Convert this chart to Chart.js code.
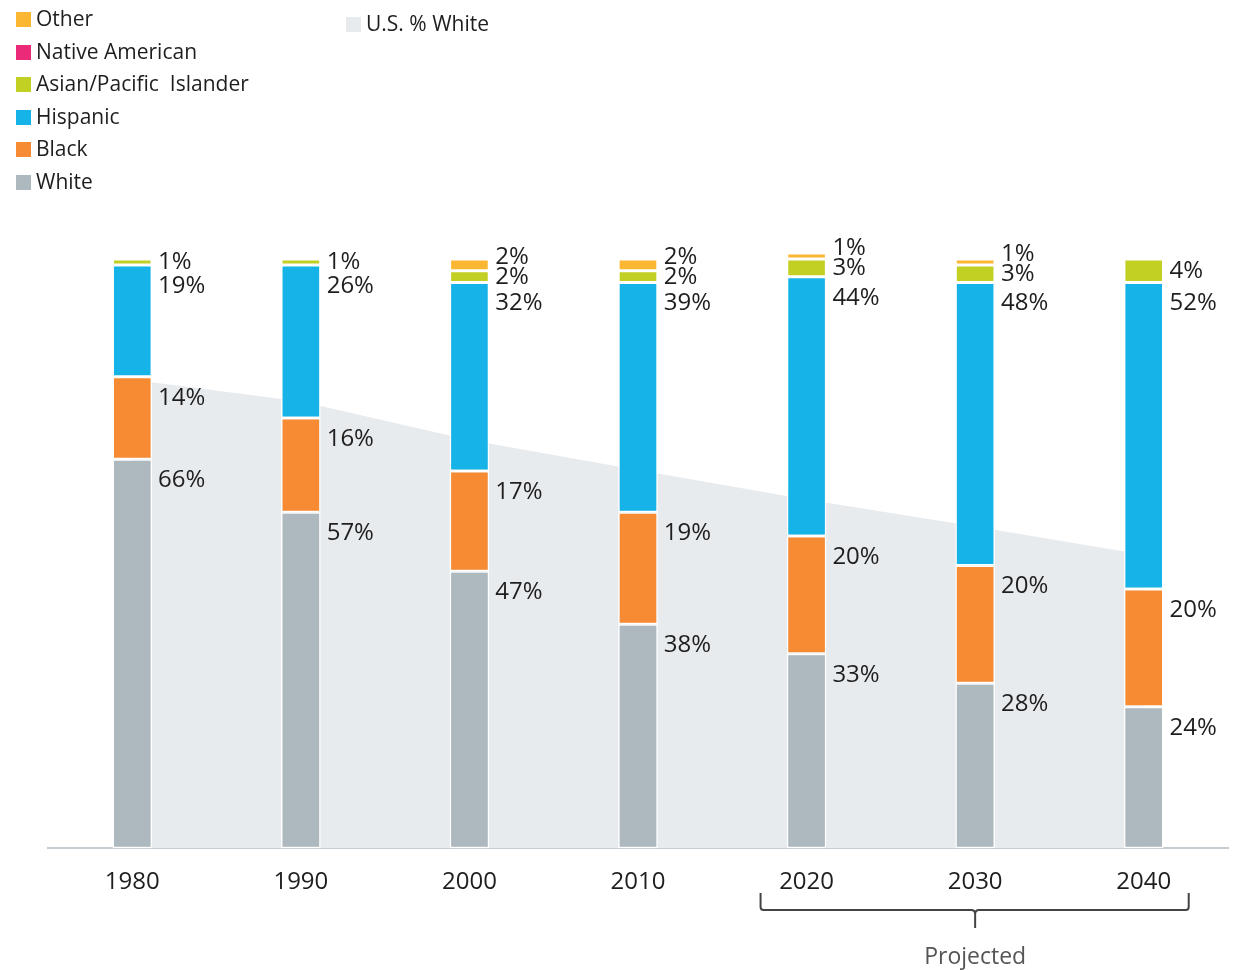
<!DOCTYPE html>
<html>
<head>
<meta charset="utf-8">
<script src="https://cdn.jsdelivr.net/npm/chart.js@4.4.0/dist/chart.umd.min.js"></script>
<style>
  body { margin: 0; background: #fff; font-family: "Open Sans", sans-serif; }
  #wrap { position: relative; width: 1237px; height: 970px; }
  #myChart { position: absolute; left: 0; top: 0; }
  .leg { position: absolute; font-size: 21px; color: #1e1e1e; line-height: 24px; white-space: pre; }
  .leg span { display: inline-block; width: 15px; height: 15px; margin-right: 5px; vertical-align: -1px; }
</style>
</head>
<body>
<div id="wrap">
  <canvas id="myChart" width="1237" height="970"></canvas>
  <div id="legend"></div>
</div>
<script>
// years on the x axis
let years = ['1980', '1990', '2000', '2010', '2020', '2030', '2040'];

// share of each group, in percent
let white = [66, 57, 47, 38, 33, 28, 24];
let black = [14, 16, 17, 19, 20, 20, 20];
let hispanic = [19, 26, 32, 39, 44, 48, 52];
let asian = [1, 1, 2, 2, 3, 3, 4];
let nativeAm = [0, 0, 0, 0, 0, 0, 0];
let other = [0, 0, 2, 2, 1, 1, 0];

// U.S. % white (background area)
let usWhite = [79.5, 75.8, 69.3, 64.2, 59.2, 54.6, 49.8];

let colores = {
    white: '#adb8bf',
    black: '#f68b33',
    hispanic: '#15b3e8',
    asian: '#c2cf23',
    nativeAm: '#ec2a7a',
    other: '#fbb731',
    area: '#e8ebee'
};

// legend, built as html
let legendItems = [
    { label: 'Other', color: colores.other, x: 16, y: 6 },
    { label: 'Native American', color: colores.nativeAm, x: 16, y: 39 },
    { label: 'Asian/Pacific  Islander', color: colores.asian, x: 16, y: 71 },
    { label: 'Hispanic', color: colores.hispanic, x: 16, y: 104 },
    { label: 'Black', color: colores.black, x: 16, y: 136 },
    { label: 'White', color: colores.white, x: 16, y: 169 },
    { label: 'U.S. % White', color: colores.area, x: 346, y: 11 }
];
let legend = document.getElementById('legend');
legendItems.forEach(e => {
    let d = document.createElement('div');
    d.className = 'leg';
    d.style.left = e.x + 'px';
    d.style.top = e.y + 'px';
    d.innerHTML = '<span style="background:' + e.color + '"></span>' + e.label;
    legend.appendChild(d);
});

function barSet(label, data, color) {
    return {
        type: 'bar',
        label: label,
        data: data,
        backgroundColor: color,
        borderColor: '#ffffff',
        borderWidth: 1.5,
        borderSkipped: false,
        stack: 'razas',
        barPercentage: 0.235,
        categoryPercentage: 1,
        clip: false,
        order: 1
    };
}

// labels to the right of each bar + the "Projected" bracket
const etiquetas = {
    id: 'etiquetas',
    afterDatasetsDraw(chart) {
        let ctx = chart.ctx;
        let barras = [0, 1, 2, 3, 4, 5];
        ctx.save();
        ctx.font = '24px "Open Sans", sans-serif';
        ctx.fillStyle = '#1e1e1e';
        ctx.textBaseline = 'middle';
        ctx.textAlign = 'left';
        for (let i = 0; i < years.length; i++) {
            let items = [];
            barras.forEach(d => {
                let v = chart.data.datasets[d].data[i];
                if (!v) return;
                let el = chart.getDatasetMeta(d).data[i];
                let top = Math.min(el.y, el.base);
                let bottom = Math.max(el.y, el.base);
                items.push({
                    text: v + '%',
                    x: el.x + el.width / 2 + 6,
                    y: Math.min(top + 21, (top + bottom) / 2)
                });
            });
            // push small labels up so they don't overlap
            for (let k = 1; k < items.length; k++) {
                if (items[k].y > items[k - 1].y - 20) {
                    items[k].y = items[k - 1].y - 20;
                }
            }
            items.forEach(it => ctx.fillText(it.text, it.x, it.y));
        }

        // bracket under projected years
        let x = chart.scales.x;
        let x1 = x.getPixelForValue(4) - 46;
        let x2 = x.getPixelForValue(6) + 45;
        let xm = x.getPixelForValue(5);
        let yb = 910;
        ctx.strokeStyle = '#444';
        ctx.lineWidth = 2;
        ctx.beginPath();
        ctx.moveTo(x1, 893);
        ctx.lineTo(x1, yb - 3);
        ctx.quadraticCurveTo(x1, yb, x1 + 3, yb);
        ctx.lineTo(xm - 4, yb);
        ctx.quadraticCurveTo(xm, yb, xm, yb + 4);
        ctx.lineTo(xm, 928);
        ctx.moveTo(xm, yb + 4);
        ctx.quadraticCurveTo(xm, yb, xm + 4, yb);
        ctx.lineTo(x2 - 3, yb);
        ctx.quadraticCurveTo(x2, yb, x2, yb - 3);
        ctx.lineTo(x2, 893);
        ctx.stroke();

        ctx.fillStyle = '#555';
        ctx.textAlign = 'center';
        ctx.font = '23px "Open Sans", sans-serif';
        ctx.fillText('Projected', xm, 957);
        ctx.restore();
    }
};

var ctx = document.getElementById('myChart').getContext('2d');
var chart = new Chart(ctx, {
    data: {
        labels: years,
        datasets: [
            barSet('White', white, colores.white),
            barSet('Black', black, colores.black),
            barSet('Hispanic', hispanic, colores.hispanic),
            barSet('Asian/Pacific Islander', asian, colores.asian),
            barSet('Native American', nativeAm, colores.nativeAm),
            barSet('Other', other, colores.other),
            {
                type: 'line',
                label: 'U.S. % White',
                data: usWhite,
                backgroundColor: colores.area,
                borderWidth: 0,
                pointRadius: 0,
                fill: 'origin',
                tension: 0,
                stack: 'area',
                order: 5
            }
        ]
    },
    plugins: [etiquetas],
    options: {
        responsive: false,
        animation: false,
        layout: { padding: { left: 48, right: 9, top: 259, bottom: 53 } },
        plugins: {
            legend: { display: false },
            tooltip: { enabled: false }
        },
        scales: {
            x: {
                stacked: true,
                grid: { display: false, drawTicks: false },
                border: { color: '#c5cdd3', width: 2 },
                ticks: {
                    padding: 20,
                    color: '#1e1e1e',
                    font: { size: 24, family: '"Open Sans", sans-serif' }
                }
            },
            y: {
                stacked: true,
                display: false,
                min: 0,
                max: 100
            }
        }
    }
});
</script>
</body>
</html>
